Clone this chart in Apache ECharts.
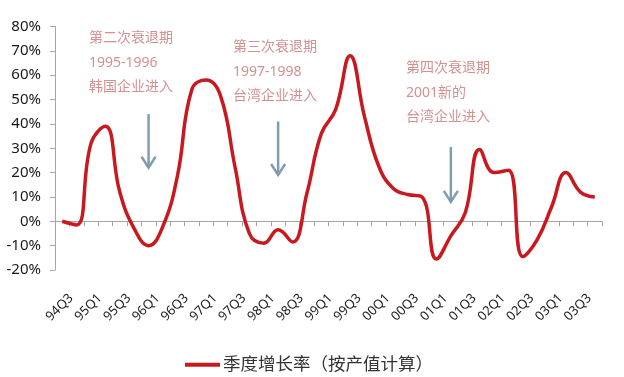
<!DOCTYPE html>
<html>
<head>
<meta charset="utf-8">
<script src="https://cdn.jsdelivr.net/npm/echarts@6/dist/echarts.min.js"></script>
<style>html,body{margin:0;padding:0;background:#fff;}#c{width:624px;height:377px;}</style>
</head>
<body>
<div id="c"></div>
<script>
var categories = ['94Q3','94Q4','95Q1','95Q2','95Q3','95Q4','96Q1','96Q2','96Q3','96Q4',
  '97Q1','97Q2','97Q3','97Q4','98Q1','98Q2','98Q3','98Q4','99Q1','99Q2',
  '99Q3','99Q4','00Q1','00Q2','00Q3','00Q4','01Q1','01Q2','01Q3','01Q4',
  '02Q1','02Q2','02Q3','02Q4','03Q1','03Q2','03Q3','03Q4'];
var growth = [0, -1.5, 32, 39, 12, -3, -10, -2, 18.5, 54,
  58, 51.5, 22.5, -5, -9, -3.5, -8.5, 11.5, 36, 46,
  68, 43, 22.5, 13.5, 11, 10, -15.5, -6, 3.5, 29.5,
  20, 21, -14.5, -7.5, 6, 20, 12, 10];
var seriesName = '季度增长率（按产值计算）';
var yTicks = {min: -20, max: 80, interval: 10};
var notes = [
  {lines: ['第二次衰退期', '1995-1996', '韩国企业进入']},
  {lines: ['第三次衰退期', '1997-1998', '台湾企业进入']},
  {lines: ['第四次衰退期', '2001新的', '台湾企业进入']}
];
var arrows = [
  {cat: '96Q1', from: 44, to: 22},
  {cat: '98Q2', from: 41, to: 19},
  {cat: '01Q2', from: 30.5, to: 8}
];

var FONT = '"Noto Sans", "Noto Sans CJK SC", sans-serif';
var AX = '#a6a6a6';
var chart = echarts.init(document.getElementById('c'), null, {renderer: 'canvas'});
chart.setOption({
  animation: false,
  backgroundColor: '#fff',
  grid: [
    {left: 55, right: 22, top: 26.5, bottom: 107},
    {left: 64, right: 13, top: 26.5, bottom: 107}
  ],
  legend: {
    left: 180, top: 351,
    icon: 'rect', itemWidth: 35, itemHeight: 4, itemGap: 10,
    textStyle: {fontFamily: FONT, fontSize: 17.5, color: '#333', padding: [0,0,0,-2]},
    data: [seriesName]
  },
  xAxis: [
    {type: 'category', data: categories, gridIndex: 0, boundaryGap: true,
     axisLine: {onZero: true, lineStyle: {color: AX, width: 1}},
     axisTick: {show: true, interval: 0, length: 5, lineStyle: {color: AX}},
     axisLabel: {show: false}, splitLine: {show: false}},
    {type: 'category', data: categories, gridIndex: 1, position: 'bottom', boundaryGap: true,
     axisLine: {show: false}, axisTick: {show: false},
     axisLabel: {show: true, interval: 1, rotate: 45, margin: 26,
       fontFamily: FONT, fontSize: 13, color: '#222'}}
  ],
  yAxis: [
    {type: 'value', gridIndex: 0, min: yTicks.min, max: yTicks.max, interval: yTicks.interval,
     axisLine: {show: true, lineStyle: {color: AX, width: 1}},
     axisTick: {show: true, length: 5, lineStyle: {color: AX}},
     splitLine: {show: false},
     axisLabel: {formatter: '{value}%', margin: 14, fontFamily: FONT, fontSize: 15, color: '#1a1a1a'}},
    {type: 'value', gridIndex: 1, min: yTicks.min, max: yTicks.max, show: false}
  ],
  series: [{
    name: seriesName, type: 'line', xAxisIndex: 0, yAxisIndex: 0,
    data: growth, smooth: 0.45, showSymbol: false, symbol: 'none',
    lineStyle: {color: '#c81a1e', width: 3.5},
    itemStyle: {color: '#c81a1e'}
  }]
});

function px(cat, v) { return chart.convertToPixel({xAxisIndex: 0, yAxisIndex: 0}, [cat, v]); }
var graphics = [];
var notePos = [[89, 31], [233, 40], [406, 61]];
notes.forEach(function (n, k) {
  n.lines.forEach(function (t, j) {
    graphics.push({type: 'text', left: notePos[k][0], top: notePos[k][1] + j * 24.7,
      style: {text: t, fill: '#d4918f', font: '14px ' + FONT}});
  });
});
arrows.forEach(function (a) {
  var p0 = px(a.cat, a.from), p1 = px(a.cat, a.to);
  graphics.push({type: 'polyline', shape: {points: [p0, p1]},
    style: {stroke: '#7f9db0', lineWidth: 2.5, fill: null}});
  graphics.push({type: 'polyline', shape: {points: [[p1[0] - 7, p1[1] - 11], p1, [p1[0] + 7, p1[1] - 11]]},
    style: {stroke: '#7f9db0', lineWidth: 2.5, fill: null}});
});
chart.setOption({graphic: graphics});
</script>
</body>
</html>
